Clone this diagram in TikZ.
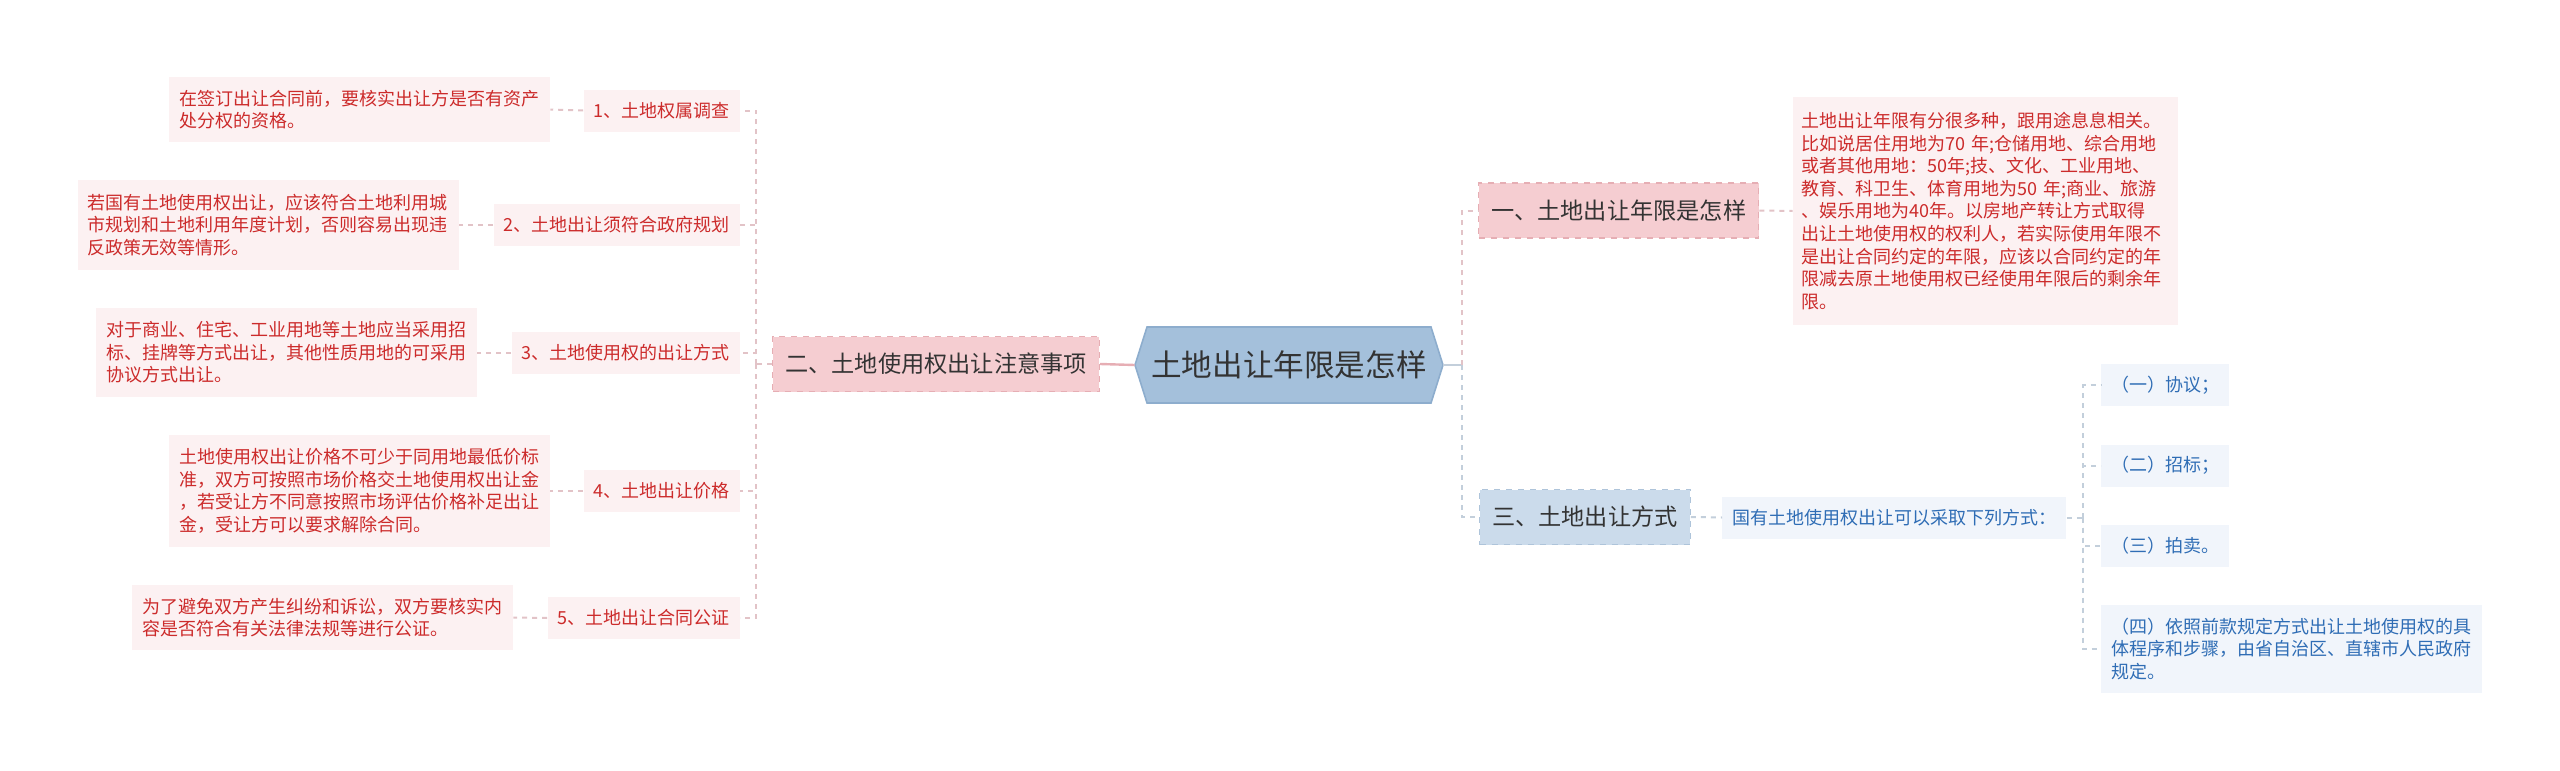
\documentclass[tikz,border=0pt]{standalone}
\usepackage{fontspec}
\setmainfont{Noto Sans CJK SC}
\definecolor{redtxt}{HTML}{CC2B2B}
\definecolor{darktxt}{HTML}{333333}
\definecolor{bluetxt}{HTML}{2F6DB5}
\definecolor{leafpink}{HTML}{FCF1F2}
\definecolor{leafblue}{HTML}{F1F5FB}
\definecolor{lvlpink}{HTML}{F5CDD1}
\definecolor{lvlpinkb}{HTML}{E6AEB4}
\definecolor{lvlblue}{HTML}{CBDBEB}
\definecolor{lvlblueb}{HTML}{AEC4DA}
\definecolor{hexfill}{HTML}{A4C0DB}
\definecolor{hexborder}{HTML}{8DADCD}
\definecolor{linepink}{HTML}{E2C3C7}
\definecolor{lineblue}{HTML}{C3CFDB}
\begin{document}
\begin{tikzpicture}[x=0.5pt,y=-0.5pt,
  lvlP/.style={rectangle, fill=lvlpink, draw=lvlpinkb, dashed, line width=0.6pt, inner xsep=6.25pt, inner ysep=0pt, minimum height=27.5pt, text=darktxt, font=\fontsize{11.6pt}{14pt}\selectfont},
  lvlB/.style={lvlP, fill=lvlblue, draw=lvlblueb},
  itemR/.style={rectangle, fill=leafpink, inner xsep=5pt, inner ysep=0pt, minimum height=21pt, text=redtxt, font=\fontsize{9pt}{11.3pt}\selectfont},
  descR/.style={itemR, align=left, text width=180.5pt},
  itemB/.style={itemR, fill=leafblue, text=bluetxt},
  descB/.style={descR, fill=leafblue, text=bluetxt},
  lineP/.style={draw=linepink, line width=1pt, dash pattern=on 2.5pt off 2.5pt},
  lineB/.style={draw=lineblue, line width=1pt, dash pattern=on 2.5pt off 2.5pt},
  ]
\useasboundingbox (0,0) rectangle (2560,771);

% central hexagon
\filldraw[fill=hexfill, draw=hexborder, line width=0.8pt] (1135,365) -- (1147,327) -- (1431,327) -- (1443,365) -- (1431,403) -- (1147,403) -- cycle;
\node[minimum width=154pt, minimum height=38pt, inner sep=0pt, text=darktxt, font=\fontsize{15.3pt}{18pt}\selectfont] (c) at (1289,365) {土地出让年限是怎样};

% level 1
\node[lvlP, anchor=east] (n2) at (1100,364) {二、土地使用权出让注意事项};
\node[lvlP, anchor=west] (n1) at (1478,210.5) {一、土地出让年限是怎样};
\node[lvlB, anchor=west] (n3) at (1479,517) {三、土地出让方式};

% left items
\node[itemR, anchor=east] (i1) at (740,110.5) {1、土地权属调查};
\node[itemR, anchor=east] (i2) at (740,225) {2、土地出让须符合政府规划};
\node[itemR, anchor=east] (i3) at (740,352.5) {3、土地使用权的出让方式};
\node[itemR, anchor=east] (i4) at (740,491) {4、土地出让价格};
\node[itemR, anchor=east] (i5) at (740,618) {5、土地出让合同公证};

% left descriptions
\node[descR, minimum height=32.5pt] (d1) at (359.5,109.5) {在签订出让合同前，要核实出让方是否有资产\\处分权的资格。};
\node[descR, minimum height=45pt] (d2) at (268,225) {若国有土地使用权出让，应该符合土地利用城\\市规划和土地利用年度计划，否则容易出现违\\反政策无效等情形。};
\node[descR, minimum height=44.5pt] (d3) at (286.5,352.5) {对于商业、住宅、工业用地等土地应当采用招\\标、挂牌等方式出让，其他性质用地的可采用\\协议方式出让。};
\node[descR, minimum height=56pt] (d4) at (359.5,491) {土地使用权出让价格不可少于同用地最低价标\\准，双方可按照市场价格交土地使用权出让金\\，若受让方不同意按照市场评估价格补足出让\\金，受让方可以要求解除合同。};
\node[descR, minimum height=32.5pt] (d5) at (322.5,617.5) {为了避免双方产生纠纷和诉讼，双方要核实内\\容是否符合有关法律法规等进行公证。};

% right description
\node[descR, text width=184pt, inner xsep=4.25pt, minimum height=114pt] (dr) at (1985.5,211) {土地出让年限有分很多种，跟用途息息相关。\\比如说居住用地为70 年;仓储用地、综合用地\\或者其他用地：50年;技、文化、工业用地、\\教育、科卫生、体育用地为50 年;商业、旅游\\、娱乐用地为40年。以房地产转让方式取得\\出让土地使用权的权利人，若实际使用年限不\\是出让合同约定的年限，应该以合同约定的年\\限减去原土地使用权已经使用年限后的剩余年\\限。};

% blue branch
\node[itemB, anchor=west] (g) at (1722,517.5) {国有土地使用权出让可以采取下列方式：};
\node[itemB, anchor=west] (s1) at (2101,385) {（一）协议；};
\node[itemB, anchor=west] (s2) at (2101,465.5) {（二）招标；};
\node[itemB, anchor=west] (s3) at (2101,545.5) {（三）拍卖。};
\node[descB, minimum height=44pt] (s4) at (2291.5,649) {（四）依照前款规定方式出让土地使用权的具\\体程序和步骤，由省自治区、直辖市人民政府\\规定。};

% connectors
\coordinate (sl) at (756,364);
\coordinate (sr) at (1462,365);
\coordinate (ss) at (2083,517.5);

\draw[draw=lvlpinkb, line width=1.2pt] (c.west) -- (n2.east);
\draw[lineP] (n2.west) -- (sl);
\foreach \i in {1,...,5} {
  \draw[lineP] (sl) |- (i\i.east);
  \draw[lineP] (i\i.west) -- (d\i.east);
}

\draw[draw=lineblue, line width=1.2pt] (c.east) -- (sr);
\draw[lineP] (sr) |- (n1.west);
\draw[lineB] (sr) |- (n3.west);
\draw[lineP] (n1.east) -- (dr.west);
\draw[lineB] (n3.east) -- (g.west);
\draw[lineB] (g.east) -- (ss);
\foreach \i in {1,...,4} {
  \draw[lineB] (ss) |- (s\i.west);
}
\end{tikzpicture}
\end{document}
